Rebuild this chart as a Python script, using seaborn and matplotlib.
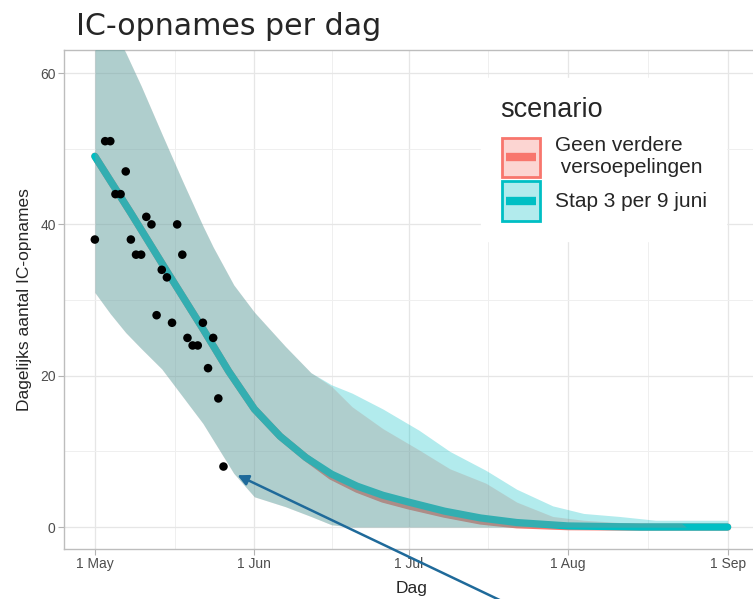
import numpy as np
import pandas as pd
import matplotlib
matplotlib.use('Agg')
import matplotlib.pyplot as plt
import matplotlib.dates as mdates
import seaborn as sns
from matplotlib.lines import Line2D
from matplotlib.patches import Rectangle
from matplotlib.legend_handler import HandlerBase
from matplotlib.colors import to_rgba

# observed daily IC admissions
obs_dates = ['2021-05-01', '2021-05-03', '2021-05-04', '2021-05-05', '2021-05-06',
             '2021-05-07', '2021-05-08', '2021-05-09', '2021-05-10', '2021-05-11',
             '2021-05-12', '2021-05-13', '2021-05-14', '2021-05-15', '2021-05-16',
             '2021-05-17', '2021-05-18', '2021-05-19', '2021-05-20', '2021-05-21',
             '2021-05-22', '2021-05-23', '2021-05-24', '2021-05-25', '2021-05-26']
obs_values = [38, 51, 51, 44, 44, 47, 38, 36, 36, 41, 40, 28, 34, 33, 27,
              40, 36, 25, 24, 24, 27, 21, 25, 17, 8]

# model median per scenario
line_dates = ['2021-05-01', '2021-05-08', '2021-05-15', '2021-05-22', '2021-05-27',
              '2021-06-01', '2021-06-06', '2021-06-11', '2021-06-16', '2021-06-21',
              '2021-06-26', '2021-07-01', '2021-07-08', '2021-07-15', '2021-07-22',
              '2021-08-01', '2021-08-15', '2021-09-01']
geen_median = [49.0, 41.5, 33.8, 26.2, 20.6, 15.6, 12.0, 9.2, 6.7, 5.0,
               3.7, 2.8, 1.7, 0.8, 0.3, 0.05, 0.0, 0.0]
stap3_median = [49.0, 41.5, 33.8, 26.2, 20.6, 15.6, 12.0, 9.2, 7.0, 5.4,
                4.2, 3.3, 2.1, 1.2, 0.6, 0.15, 0.0, 0.0]

# uncertainty bands
band_dates = ['2021-05-01', '2021-05-04', '2021-05-07', '2021-05-10', '2021-05-14',
              '2021-05-18', '2021-05-22', '2021-05-24', '2021-05-28', '2021-06-01',
              '2021-06-07', '2021-06-12', '2021-06-16', '2021-06-20', '2021-06-26',
              '2021-07-03', '2021-07-09', '2021-07-16', '2021-07-22', '2021-07-29',
              '2021-08-04', '2021-08-11', '2021-08-18', '2021-08-23', '2021-08-24',
              '2021-09-01']
band_lower = [31.0, 28.2, 25.7, 23.6, 20.9, 17.3, 13.7, 11.5, 7.1, 4.0,
              2.7, 1.4, 0.3, 0.0, 0.0, 0.0, 0.0, 0.0, 0.0, 0.0,
              0.0, 0.0, 0.0, 0.0, 0.0, 0.0]
geen_upper = [70.0, 66.5, 62.7, 58.3, 52.0, 45.8, 39.8, 37.0, 32.0, 28.4,
              23.9, 20.4, 18.6, 15.9, 13.0, 10.2, 7.7, 5.8, 3.3, 1.4,
              0.9, 0.6, 0.5, 0.5, 0.0, 0.0]
stap3_upper = [70.0, 66.5, 62.7, 58.3, 52.0, 45.8, 39.8, 37.0, 32.0, 28.4,
               23.9, 20.4, 18.8, 17.7, 15.6, 12.8, 10.0, 7.5, 5.0, 2.8,
               1.8, 1.4, 0.9, 0.9, 0.9, 0.9]

tick_dates = ['2021-05-01', '2021-06-01', '2021-07-01', '2021-08-01', '2021-09-01']
tick_labels = ['1 May', '1 Jun', '1 Jul', '1 Aug', '1 Sep']
y_ticks = [0, 20, 40, 60]
scenario_labels = ['Geen verdere\n versoepelingen', 'Stap 3 per 9 juni']

RED = '#F8766D'
TEAL = '#00BFC4'


class RibbonKey(HandlerBase):
    """ggplot-like key: translucent box with coloured border and a thick line"""
    def create_artists(self, legend, orig_handle, xdescent, ydescent,
                       width, height, fontsize, trans):
        c = orig_handle.get_color()
        box = Rectangle((-xdescent + 1, -ydescent + 1), width - 2, height - 2,
                        facecolor=to_rgba(c, 0.3), edgecolor=c, lw=2, transform=trans)
        ymid = -ydescent + height / 2
        line = Line2D([-xdescent + 4, -xdescent + width - 4], [ymid, ymid],
                      color=c, lw=6, solid_capstyle='butt', transform=trans)
        return [box, line]


sns.set_theme(style="white")
plt.rcParams['font.family'] = ['Liberation Sans', 'DejaVu Sans']

fig = plt.figure(figsize=(7.53, 5.99), dpi=100)
ax = fig.add_axes([64 / 753, 1 - 549 / 599, (759 - 64) / 753, (549 - 50) / 599])

lines = pd.DataFrame({'date': pd.to_datetime(line_dates),
                      'geen': geen_median, 'stap3': stap3_median})
bands = pd.DataFrame({'date': pd.to_datetime(band_dates), 'lo': band_lower,
                      'geen_hi': geen_upper, 'stap3_hi': stap3_upper})
obs = pd.DataFrame({'date': pd.to_datetime(obs_dates), 'value': obs_values})

# lines sit under the translucent ribbons (as in the ggplot original)
sns.lineplot(data=lines, x='date', y='geen', color=RED, lw=5.2, ax=ax, zorder=2)
sns.lineplot(data=lines, x='date', y='stap3', color=TEAL, lw=5.2, ax=ax, zorder=2.1)
ax.fill_between(bands['date'], bands['lo'], bands['geen_hi'], color=RED, alpha=0.3, lw=0, zorder=3)
ax.fill_between(bands['date'], bands['lo'], bands['stap3_hi'], color=TEAL, alpha=0.3, lw=0, zorder=3.1)
sns.scatterplot(data=obs, x='date', y='value', color='black', s=38, edgecolor='none', ax=ax, zorder=5)

# axes
major = mdates.date2num(pd.to_datetime(tick_dates))
ax.set_xlim(major[0] - 6.0, major[-1] + 6.1)
ax.set_ylim(-2.9, 63.05)
ax.set_xticks(major)
ax.set_xticklabels(tick_labels)
ax.set_xticks((major[:-1] + major[1:]) / 2, minor=True)
ax.set_yticks(y_ticks)
ax.set_yticks([10, 30, 50], minor=True)
ax.grid(which='major', color='#E6E6E6', lw=0.9)
ax.grid(which='minor', color='#EFEFEF', lw=0.7)
ax.set_axisbelow(True)
ax.tick_params(axis='both', which='major', length=4, width=0.8, color='#B3B3B3',
               labelcolor='#4D4D4D', labelsize=10, pad=2, bottom=True, left=True)
ax.tick_params(which='minor', length=0)
for s in ax.spines.values():
    s.set_color('#BDBDBD')
    s.set_linewidth(1.0)
ax.set_xlabel('Dag', fontsize=12.5, labelpad=7)
ax.set_ylabel('Dagelijks aantal IC-opnames', fontsize=12.5, labelpad=6)

# legend
handles = [Line2D([], [], color=RED), Line2D([], [], color=TEAL)]
leg = ax.legend(handles, scenario_labels,
                handler_map={Line2D: RibbonKey()},
                title='scenario', fontsize=15, title_fontsize=19.5,
                loc='upper left', bbox_to_anchor=(471 / 753, 1 - 68 / 599),
                bbox_transform=fig.transFigure, frameon=True, facecolor='white',
                edgecolor='white', framealpha=1, fancybox=False,
                handlelength=2.0, handleheight=2.75, handletextpad=0.65,
                labelspacing=0.05, borderpad=0.9, alignment='left')
leg._legend_box.sep = 9  # gap between title and keys
leg.set_zorder(10)

fig.text(76 / 753, 1 - 35 / 599, 'IC-opnames per dag', family='DejaVu Sans',
         fontsize=21.6, va='baseline', ha='left')

# pointer arrow added on top of the chart
ax.annotate('', xy=(235 / 753, 1 - 474 / 599), xycoords='figure fraction',
            xytext=(508 / 753, 1 - 604 / 599), textcoords='figure fraction',
            arrowprops=dict(arrowstyle='-|>', color='#1F6A9A', lw=1.8, mutation_scale=16),
            annotation_clip=False, zorder=12)

fig.savefig('out.png', dpi=100)
